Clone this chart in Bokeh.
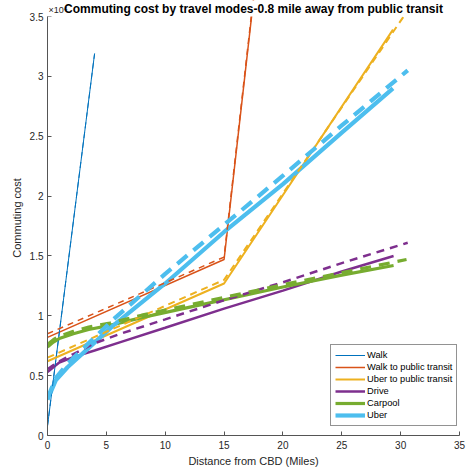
from bokeh.plotting import figure
from bokeh.models import Label, Legend, LegendItem, Range1d, FixedTicker, BoxAnnotation
from bokeh.embed import file_html
from bokeh.resources import INLINE

# Values are in units of 10^4 (axis multiplier "x10^4")
# ---- solid series ----
walk_x = [0, 4.0]
walk_y = [0.08, 3.19]
wtt_x = [0, 15, 30]
wtt_y = [0.82, 1.47, 14.5]
utt_x = [0, 15, 29.35]
utt_y = [0.62, 1.27, 3.39]
drive_x = [0, 1, 2.2, 4, 6.2, 10, 15, 20, 25, 29.4]
drive_y = [0.53, 0.61, 0.655, 0.71, 0.78, 0.90, 1.06, 1.21, 1.37, 1.50]
carpool_x = [0, 0.5, 1, 2.2, 3.5, 5.3, 8, 12, 16, 20, 25, 29.4]
carpool_y = [0.74, 0.78, 0.81, 0.85, 0.885, 0.92, 0.985, 1.07, 1.155, 1.24, 1.34, 1.42]
uber_x = [0, 0.7, 1.7, 3.6, 5.6, 10, 15, 20, 25, 29.35]
uber_y = [0.30, 0.46, 0.57, 0.74, 0.92, 1.27, 1.70, 2.10, 2.53, 2.90]

# ---- dashed series ----
walk_d_x = [0, 4.0]
walk_d_y = [0.08, 3.19]
wtt_d_x = [0, 15, 30.6]
wtt_d_y = [0.85, 1.49, 15.06]
utt_d_x = [0, 15, 30.6]
utt_d_y = [0.65, 1.30, 3.55]
drive_d_x = [0, 1, 2.2, 4, 6.2, 10, 15, 20, 25, 30.6]
drive_d_y = [0.555, 0.62, 0.68, 0.77, 0.85, 0.97, 1.13, 1.28, 1.44, 1.61]
carpool_d_x = [0, 0.5, 1, 2.2, 3.5, 5.3, 8, 12, 16, 20, 25, 30.5]
carpool_d_y = [0.76, 0.80, 0.83, 0.87, 0.905, 0.94, 1.005, 1.09, 1.175, 1.26, 1.36, 1.47]
uber_d_x = [0, 0.7, 1.7, 3.6, 5.6, 10, 15, 20, 25, 30.6]
uber_d_y = [0.31, 0.48, 0.60, 0.78, 0.97, 1.35, 1.76, 2.17, 2.59, 3.05]

names = ["Walk", "Walk to public transit", "Uber to public transit", "Drive", "Carpool", "Uber"]
x_ticks = [0, 5, 10, 15, 20, 25, 30, 35]
y_ticks = [0, 0.5, 1, 1.5, 2, 2.5, 3, 3.5]
Y_MAX = 3.5
X_MAX = 35

colors = ["#0072BD", "#D95319", "#EDB120", "#7E2F8E", "#77AC30", "#4DBEEE"]
widths = [1, 1.5, 2, 2.5, 3.2, 4.2]
dashes = ["6 4", "6 5", "7 5", "8 6", "11 8", "13 8"]

FONT = "Liberation Sans"

# frame spans the whole top margin; the axes stop at Y_MAX
AXES_H = 419
TOP_PAD = 16
y_top = Y_MAX * (AXES_H + TOP_PAD) / AXES_H

p = figure(width=467, height=471, frame_width=412, frame_height=AXES_H + TOP_PAD,
           min_border_left=47, min_border_right=8, min_border_top=0, min_border_bottom=36,
           output_backend="svg", toolbar_location=None,
           x_range=Range1d(0, X_MAX), y_range=Range1d(0, y_top))
p.outline_line_color = None
p.xgrid.visible = False
p.ygrid.visible = False
p.background_fill_color = "white"
p.border_fill_color = "white"

solid = [(walk_x, walk_y), (wtt_x, wtt_y), (utt_x, utt_y), (drive_x, drive_y),
         (carpool_x, carpool_y), (uber_x, uber_y)]
dashed = [(walk_d_x, walk_d_y), (wtt_d_x, wtt_d_y), (utt_d_x, utt_d_y), (drive_d_x, drive_d_y),
          (carpool_d_x, carpool_d_y), (uber_d_x, uber_d_y)]

items = []
for i, (xs, ys) in enumerate(solid):
    r = p.line(xs, ys, line_color=colors[i], line_width=widths[i])
    items.append(LegendItem(label=names[i], renderers=[r]))
for i, (xs, ys) in enumerate(dashed):
    p.line(xs, ys, line_color=colors[i], line_width=widths[i], line_dash=dashes[i])

# mask anything above the axes' top limit (axes clip)
p.add_layout(BoxAnnotation(bottom=Y_MAX, fill_color="white", fill_alpha=1, line_color=None))

for ax in (p.xaxis[0], p.yaxis[0]):
    ax.axis_line_color = "#555555"
    ax.axis_line_width = 1
    ax.major_tick_line_color = "#555555"
    ax.major_tick_in = 4
    ax.major_tick_out = 0
    ax.minor_tick_line_color = None
    ax.major_label_text_font = FONT
    ax.major_label_text_font_size = "10px"
    ax.major_label_text_color = "#262626"
    ax.axis_label_text_font = FONT
    ax.axis_label_text_font_size = "11px"
    ax.axis_label_text_font_style = "normal"
    ax.axis_label_text_color = "#262626"

p.xaxis[0].ticker = FixedTicker(ticks=x_ticks)
p.yaxis[0].ticker = FixedTicker(ticks=y_ticks)
p.yaxis[0].bounds = (0, Y_MAX)
p.xaxis[0].axis_label = "Distance from CBD (Miles)"
p.yaxis[0].axis_label = "Commuting cost"
p.xaxis[0].major_label_standoff = 5
p.xaxis[0].axis_label_standoff = 3
p.yaxis[0].major_label_standoff = 4
p.yaxis[0].axis_label_standoff = 4

legend = Legend(items=items, location=(283, 9))
legend.label_text_font = FONT
legend.label_text_font_size = "9.3px"
legend.label_text_color = "#000000"
legend.glyph_width = 30
legend.glyph_height = 12
legend.label_height = 12
legend.label_standoff = 2
legend.spacing = 0
legend.padding = 4
legend.margin = 0
legend.border_line_color = "#262626"
legend.border_line_width = 1
legend.background_fill_color = "white"
legend.background_fill_alpha = 1
p.add_layout(legend, "center")

expo = Label(x=0, y=Y_MAX, text="\u00d710\u2074", text_font=FONT, text_font_size="9px",
             text_color="#262626", text_baseline="bottom", text_align="left",
             x_offset=1, y_offset=2)
p.add_layout(expo)

title = Label(x=X_MAX / 2, y=Y_MAX, text="Commuting cost by travel modes-0.8 mile away from public transit",
              text_font=FONT, text_font_size="12px", text_font_style="bold",
              text_color="#000000", text_align="center", text_baseline="bottom", y_offset=1)
p.add_layout(title)

open("out.html", "w").write(file_html(p, INLINE))
